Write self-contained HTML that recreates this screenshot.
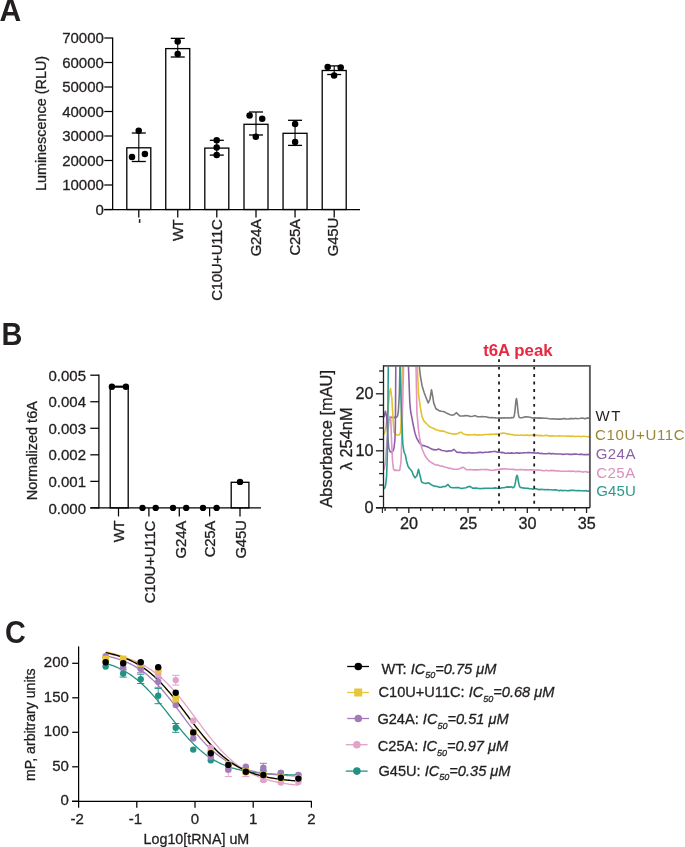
<!DOCTYPE html>
<html><head><meta charset="utf-8"><style>
html,body{margin:0;padding:0;background:#fff;overflow:hidden;}
svg{display:block;font-family:"Liberation Sans",sans-serif;will-change:transform;}
</style></head><body>
<svg width="685" height="847" viewBox="0 0 685 847">
<rect width="685" height="847" fill="#fff"/>
<text transform="translate(-0.6,20.9) scale(0.955,1)" font-size="31.5" font-weight="bold" fill="#231f20">A</text>
<line x1="112.65" y1="37.40" x2="112.65" y2="210.10" stroke="#000" stroke-width="1.25"/>
<line x1="104.20" y1="209.50" x2="360.00" y2="209.50" stroke="#000" stroke-width="1.25"/>
<line x1="104.30" y1="209.50" x2="112.65" y2="209.50" stroke="#000" stroke-width="1.25"/>
<text x="103.90" y="214.90" font-size="15" text-anchor="end" fill="#231f20" stroke="#231f20" stroke-width="0.3">0</text>
<line x1="104.30" y1="185.00" x2="112.65" y2="185.00" stroke="#000" stroke-width="1.25"/>
<text x="103.90" y="190.40" font-size="15" text-anchor="end" fill="#231f20" stroke="#231f20" stroke-width="0.3">10000</text>
<line x1="104.30" y1="160.50" x2="112.65" y2="160.50" stroke="#000" stroke-width="1.25"/>
<text x="103.90" y="165.90" font-size="15" text-anchor="end" fill="#231f20" stroke="#231f20" stroke-width="0.3">20000</text>
<line x1="104.30" y1="136.00" x2="112.65" y2="136.00" stroke="#000" stroke-width="1.25"/>
<text x="103.90" y="141.40" font-size="15" text-anchor="end" fill="#231f20" stroke="#231f20" stroke-width="0.3">30000</text>
<line x1="104.30" y1="111.50" x2="112.65" y2="111.50" stroke="#000" stroke-width="1.25"/>
<text x="103.90" y="116.90" font-size="15" text-anchor="end" fill="#231f20" stroke="#231f20" stroke-width="0.3">40000</text>
<line x1="104.30" y1="87.00" x2="112.65" y2="87.00" stroke="#000" stroke-width="1.25"/>
<text x="103.90" y="92.40" font-size="15" text-anchor="end" fill="#231f20" stroke="#231f20" stroke-width="0.3">50000</text>
<line x1="104.30" y1="62.50" x2="112.65" y2="62.50" stroke="#000" stroke-width="1.25"/>
<text x="103.90" y="67.90" font-size="15" text-anchor="end" fill="#231f20" stroke="#231f20" stroke-width="0.3">60000</text>
<line x1="104.30" y1="38.00" x2="112.65" y2="38.00" stroke="#000" stroke-width="1.25"/>
<text x="103.90" y="43.40" font-size="15" text-anchor="end" fill="#231f20" stroke="#231f20" stroke-width="0.3">70000</text>
<text x="45.60" y="123.50" font-size="14.4" text-anchor="middle" fill="#231f20" stroke="#231f20" stroke-width="0.3" transform="rotate(-90 45.60 123.50)">Luminescence (RLU)</text>
<rect x="126.80" y="147.80" width="24" height="61.70" fill="none" stroke="#000" stroke-width="1.3"/>
<line x1="138.80" y1="209.50" x2="138.80" y2="217.60" stroke="#000" stroke-width="1.25"/>
<rect x="165.75" y="48.60" width="24" height="160.90" fill="none" stroke="#000" stroke-width="1.3"/>
<line x1="177.75" y1="209.50" x2="177.75" y2="217.60" stroke="#000" stroke-width="1.25"/>
<rect x="204.80" y="148.10" width="24" height="61.40" fill="none" stroke="#000" stroke-width="1.3"/>
<line x1="216.80" y1="209.50" x2="216.80" y2="217.60" stroke="#000" stroke-width="1.25"/>
<rect x="244.00" y="124.30" width="24" height="85.20" fill="none" stroke="#000" stroke-width="1.3"/>
<line x1="256.00" y1="209.50" x2="256.00" y2="217.60" stroke="#000" stroke-width="1.25"/>
<rect x="283.05" y="133.30" width="24" height="76.20" fill="none" stroke="#000" stroke-width="1.3"/>
<line x1="295.05" y1="209.50" x2="295.05" y2="217.60" stroke="#000" stroke-width="1.25"/>
<rect x="322.20" y="70.50" width="24" height="139.00" fill="none" stroke="#000" stroke-width="1.3"/>
<line x1="334.20" y1="209.50" x2="334.20" y2="217.60" stroke="#000" stroke-width="1.25"/>
<text x="143.90" y="223.37" transform="rotate(-90 143.90 223.37)" font-size="15" fill="#231f20" stroke="#231f20" stroke-width="0.3" textLength="5.13" lengthAdjust="spacing">-</text>
<text x="183.00" y="240.97" transform="rotate(-90 183.00 240.97)" font-size="15" fill="#231f20" stroke="#231f20" stroke-width="0.3" textLength="21.71" lengthAdjust="spacing">WT</text>
<text x="221.85" y="300.76" transform="rotate(-90 221.85 300.76)" font-size="15" fill="#231f20" stroke="#231f20" stroke-width="0.3" textLength="81.73" lengthAdjust="spacing">C10U+U11C</text>
<text x="260.65" y="256.25" transform="rotate(-90 260.65 256.25)" font-size="15" fill="#231f20" stroke="#231f20" stroke-width="0.3" textLength="37.38" lengthAdjust="spacing">G24A</text>
<text x="299.75" y="255.56" transform="rotate(-90 299.75 255.56)" font-size="15" fill="#231f20" stroke="#231f20" stroke-width="0.3" textLength="36.69" lengthAdjust="spacing">C25A</text>
<text x="338.25" y="256.25" transform="rotate(-90 338.25 256.25)" font-size="15" fill="#231f20" stroke="#231f20" stroke-width="0.3" textLength="38.51" lengthAdjust="spacing">G45U</text>
<line x1="138.80" y1="133.00" x2="138.80" y2="161.50" stroke="#000" stroke-width="1.1"/>
<line x1="131.80" y1="133.00" x2="145.80" y2="133.00" stroke="#000" stroke-width="1.3"/>
<line x1="131.80" y1="161.50" x2="145.80" y2="161.50" stroke="#000" stroke-width="1.3"/>
<circle cx="138.70" cy="130.70" r="3.25" fill="#000"/>
<circle cx="132.00" cy="157.10" r="3.25" fill="#000"/>
<circle cx="144.90" cy="153.90" r="3.25" fill="#000"/>
<line x1="177.75" y1="38.35" x2="177.75" y2="57.00" stroke="#000" stroke-width="1.1"/>
<line x1="170.75" y1="38.35" x2="184.75" y2="38.35" stroke="#000" stroke-width="1.3"/>
<line x1="170.75" y1="57.00" x2="184.75" y2="57.00" stroke="#000" stroke-width="1.3"/>
<circle cx="177.70" cy="41.40" r="3.25" fill="#000"/>
<circle cx="177.70" cy="53.90" r="3.25" fill="#000"/>
<line x1="216.80" y1="140.30" x2="216.80" y2="155.10" stroke="#000" stroke-width="1.1"/>
<line x1="209.80" y1="140.30" x2="223.80" y2="140.30" stroke="#000" stroke-width="1.3"/>
<line x1="209.80" y1="155.10" x2="223.80" y2="155.10" stroke="#000" stroke-width="1.3"/>
<circle cx="216.70" cy="140.30" r="3.25" fill="#000"/>
<circle cx="216.70" cy="147.60" r="3.25" fill="#000"/>
<circle cx="216.70" cy="155.10" r="3.25" fill="#000"/>
<line x1="256.00" y1="112.00" x2="256.00" y2="135.00" stroke="#000" stroke-width="1.1"/>
<line x1="249.00" y1="112.00" x2="263.00" y2="112.00" stroke="#000" stroke-width="1.3"/>
<line x1="249.00" y1="135.00" x2="263.00" y2="135.00" stroke="#000" stroke-width="1.3"/>
<circle cx="249.60" cy="115.50" r="3.25" fill="#000"/>
<circle cx="262.20" cy="118.70" r="3.25" fill="#000"/>
<circle cx="255.80" cy="136.80" r="3.25" fill="#000"/>
<line x1="295.05" y1="120.30" x2="295.05" y2="145.40" stroke="#000" stroke-width="1.1"/>
<line x1="288.05" y1="120.30" x2="302.05" y2="120.30" stroke="#000" stroke-width="1.3"/>
<line x1="288.05" y1="145.40" x2="302.05" y2="145.40" stroke="#000" stroke-width="1.3"/>
<circle cx="295.10" cy="124.00" r="3.25" fill="#000"/>
<circle cx="295.10" cy="142.00" r="3.25" fill="#000"/>
<line x1="334.20" y1="65.90" x2="334.20" y2="74.50" stroke="#000" stroke-width="1.1"/>
<line x1="327.20" y1="65.90" x2="341.20" y2="65.90" stroke="#000" stroke-width="1.3"/>
<line x1="327.20" y1="74.50" x2="341.20" y2="74.50" stroke="#000" stroke-width="1.3"/>
<circle cx="327.70" cy="67.00" r="3.25" fill="#000"/>
<circle cx="340.70" cy="67.40" r="3.25" fill="#000"/>
<circle cx="334.10" cy="75.40" r="3.25" fill="#000"/>
<text transform="translate(1.6,345.0) scale(0.945,1)" font-size="30.6" font-weight="bold" fill="#231f20">B</text>
<line x1="98.90" y1="374.60" x2="98.90" y2="508.50" stroke="#000" stroke-width="1.25"/>
<line x1="90.30" y1="507.90" x2="261.00" y2="507.90" stroke="#000" stroke-width="1.25"/>
<line x1="90.30" y1="507.90" x2="98.90" y2="507.90" stroke="#000" stroke-width="1.25"/>
<text x="86.00" y="513.50" font-size="15" text-anchor="end" fill="#231f20" stroke="#231f20" stroke-width="0.3">0.000</text>
<line x1="90.30" y1="481.36" x2="98.90" y2="481.36" stroke="#000" stroke-width="1.25"/>
<text x="86.00" y="486.96" font-size="15" text-anchor="end" fill="#231f20" stroke="#231f20" stroke-width="0.3">0.001</text>
<line x1="90.30" y1="454.82" x2="98.90" y2="454.82" stroke="#000" stroke-width="1.25"/>
<text x="86.00" y="460.42" font-size="15" text-anchor="end" fill="#231f20" stroke="#231f20" stroke-width="0.3">0.002</text>
<line x1="90.30" y1="428.28" x2="98.90" y2="428.28" stroke="#000" stroke-width="1.25"/>
<text x="86.00" y="433.88" font-size="15" text-anchor="end" fill="#231f20" stroke="#231f20" stroke-width="0.3">0.003</text>
<line x1="90.30" y1="401.74" x2="98.90" y2="401.74" stroke="#000" stroke-width="1.25"/>
<text x="86.00" y="407.34" font-size="15" text-anchor="end" fill="#231f20" stroke="#231f20" stroke-width="0.3">0.004</text>
<line x1="90.30" y1="375.20" x2="98.90" y2="375.20" stroke="#000" stroke-width="1.25"/>
<text x="86.00" y="380.80" font-size="15" text-anchor="end" fill="#231f20" stroke="#231f20" stroke-width="0.3">0.005</text>
<text x="37.20" y="450.70" font-size="14.5" text-anchor="middle" fill="#231f20" stroke="#231f20" stroke-width="0.3" transform="rotate(-90 37.20 450.70)">Normalized t6A</text>
<line x1="118.50" y1="507.90" x2="118.50" y2="516.40" stroke="#000" stroke-width="1.25"/>
<line x1="148.90" y1="507.90" x2="148.90" y2="516.40" stroke="#000" stroke-width="1.25"/>
<line x1="179.30" y1="507.90" x2="179.30" y2="516.40" stroke="#000" stroke-width="1.25"/>
<line x1="209.60" y1="507.90" x2="209.60" y2="516.40" stroke="#000" stroke-width="1.25"/>
<line x1="240.00" y1="507.90" x2="240.00" y2="516.40" stroke="#000" stroke-width="1.25"/>
<text x="124.30" y="542.27" transform="rotate(-90 124.30 542.27)" font-size="15" fill="#231f20" stroke="#231f20" stroke-width="0.3" textLength="22.01" lengthAdjust="spacing">WT</text>
<text x="155.25" y="603.36" transform="rotate(-90 155.25 603.36)" font-size="15" fill="#231f20" stroke="#231f20" stroke-width="0.3" textLength="82.73" lengthAdjust="spacing">C10U+U11C</text>
<text x="185.55" y="558.55" transform="rotate(-90 185.55 558.55)" font-size="15" fill="#231f20" stroke="#231f20" stroke-width="0.3" textLength="37.88" lengthAdjust="spacing">G24A</text>
<text x="215.45" y="557.36" transform="rotate(-90 215.45 557.36)" font-size="15" fill="#231f20" stroke="#231f20" stroke-width="0.3" textLength="36.69" lengthAdjust="spacing">C25A</text>
<text x="245.95" y="558.55" transform="rotate(-90 245.95 558.55)" font-size="15" fill="#231f20" stroke="#231f20" stroke-width="0.3" textLength="38.41" lengthAdjust="spacing">G45U</text>
<line x1="110.00" y1="386.60" x2="128.90" y2="386.60" stroke="#000" stroke-width="2.0"/>
<rect x="110.2" y="386.8" width="18.0" height="121.10" fill="none" stroke="#000" stroke-width="1.3"/>
<rect x="231.2" y="482.3" width="17.7" height="25.60" fill="none" stroke="#000" stroke-width="1.3"/>
<circle cx="111.90" cy="386.80" r="3.2" fill="#000"/>
<circle cx="125.90" cy="386.80" r="3.2" fill="#000"/>
<circle cx="142.50" cy="507.90" r="3.2" fill="#000"/>
<circle cx="155.70" cy="507.90" r="3.2" fill="#000"/>
<circle cx="173.00" cy="507.90" r="3.2" fill="#000"/>
<circle cx="186.20" cy="507.90" r="3.2" fill="#000"/>
<circle cx="203.00" cy="507.90" r="3.2" fill="#000"/>
<circle cx="216.60" cy="507.90" r="3.2" fill="#000"/>
<circle cx="240.00" cy="481.90" r="3.2" fill="#000"/>
<defs><clipPath id="cp"><rect x="384.0" y="366.5" width="205.39999999999998" height="140.90000000000003"/></clipPath></defs>
<g clip-path="url(#cp)" fill="none" stroke-width="1.6" stroke-linejoin="round">
<path d="M390.5,417.6 L391.4,417.4 L393.1,417.2 L394.8,417.4 L396.5,417.4 L397.5,416.0 L398.3,412.0 L399.3,395.0 L400.0,365.0 L401.6,364.9 L403.2,365.1 L404.8,365.1 L406.4,364.7 L408.0,364.7 L409.6,365.2 L411.3,364.8 L412.9,364.8 L414.5,365.3 L416.1,365.0 L417.7,365.2 L419.3,365.0 L419.8,371.0 L420.5,376.6 L422.0,385.4 L424.2,392.7 L426.4,398.5 L428.2,402.9 L429.9,399.5 L431.5,389.7 L432.8,397.0 L433.7,402.9 L435.9,408.7 L437.7,409.8 L439.5,410.9 L441.4,411.3 L443.3,411.5 L445.1,412.2 L446.8,413.3 L448.6,414.1 L450.3,414.8 L452.1,415.1 L453.9,414.8 L456.5,412.7 L458.1,414.4 L459.8,416.0 L461.8,416.0 L463.7,415.9 L465.7,415.6 L468.0,415.7 L470.4,416.5 L472.8,416.2 L475.1,415.6 L477.5,416.8 L479.9,416.7 L482.2,416.5 L484.2,416.7 L486.1,416.8 L488.1,417.4 L490.1,417.8 L492.0,417.6 L494.0,417.7 L495.8,417.9 L497.7,418.0 L499.5,417.9 L501.3,418.1 L503.2,417.8 L505.0,417.9 L506.6,418.0 L508.3,417.7 L510.0,418.0 L511.6,417.6 L512.5,417.8 L513.0,417.7 L513.5,417.4 L514.0,416.5 L514.5,414.4 L515.0,410.4 L515.5,405.1 L516.0,400.3 L516.5,398.6 L517.0,401.1 L517.5,406.1 L518.0,411.3 L518.5,414.9 L519.0,416.8 L519.5,417.5 L520.0,417.7 L520.5,417.8 L522.6,417.6 L524.7,416.9 L526.5,416.8 L528.4,417.0 L530.2,417.3 L532.1,418.0 L533.9,417.9 L535.6,417.9 L537.4,418.1 L539.1,417.9 L540.9,418.1 L542.6,418.1 L544.4,418.2 L546.2,418.2 L548.1,418.5 L549.9,418.7 L551.8,419.0 L553.6,418.9 L555.3,419.0 L557.0,419.1 L558.7,419.1 L560.4,419.1 L562.2,418.9 L563.9,418.5 L565.6,418.9 L567.3,419.0 L569.0,418.9 L570.7,418.6 L572.4,418.6 L574.0,418.7 L575.7,418.3 L577.4,418.7 L579.1,418.5 L580.7,418.2 L582.4,418.0 L584.1,418.6 L585.8,418.6 L587.4,417.9 L589.1,418.2" stroke="#7b7b7b"/>
<path d="M383.9,434.5 L385.7,428.8 L387.9,411.3 L389.6,392.0 L390.5,388.5 L391.8,398.0 L393.1,420.0 L394.0,432.3 L395.8,434.5 L397.6,435.0 L399.3,435.0 L400.6,432.3 L401.5,411.3 L402.3,365.0 L404.0,364.9 L405.6,364.8 L407.3,364.9 L409.0,365.2 L410.6,365.3 L412.3,364.7 L414.0,365.1 L415.6,364.7 L417.3,365.0 L418.5,393.8 L420.3,406.9 L422.0,416.5 L423.8,420.9 L426.4,423.5 L429.0,426.2 L430.8,427.2 L432.6,427.9 L434.3,428.7 L436.0,429.7 L438.5,430.4 L440.1,430.9 L441.7,431.1 L443.3,431.0 L445.1,431.8 L446.8,432.5 L448.8,433.3 L450.7,433.4 L452.7,434.0 L454.4,433.7 L456.2,434.0 L457.9,433.5 L459.5,432.5 L461.2,432.2 L463.3,434.0 L465.1,434.2 L466.9,434.9 L468.8,434.8 L470.7,435.0 L472.5,434.7 L474.4,434.6 L476.3,434.9 L478.0,435.1 L479.7,434.7 L481.4,435.0 L483.0,434.9 L484.7,434.5 L486.4,434.5 L488.1,434.5 L489.8,434.4 L491.5,434.4 L493.2,434.2 L494.8,434.1 L496.5,434.0 L498.2,434.1 L499.9,433.7 L501.6,433.4 L503.4,433.0 L505.2,433.3 L506.9,433.9 L508.7,433.9 L510.5,434.5 L512.4,434.6 L514.3,435.2 L516.2,435.1 L518.1,435.3 L519.9,435.3 L521.6,435.0 L523.4,435.2 L525.1,435.4 L526.9,435.0 L528.6,435.4 L530.4,435.4 L532.1,435.0 L533.9,435.3 L535.6,435.4 L537.3,435.4 L539.0,435.6 L540.7,435.4 L542.4,435.7 L544.1,435.8 L545.8,435.3 L547.4,435.4 L549.1,435.9 L550.8,436.1 L552.5,435.7 L554.2,435.9 L555.9,436.0 L557.6,436.0 L559.3,435.9 L560.9,436.0 L562.6,436.0 L564.2,436.0 L565.9,436.2 L567.5,436.0 L569.2,436.1 L570.9,436.4 L572.5,436.0 L574.2,436.4 L575.8,436.5 L577.5,436.2 L579.2,436.2 L580.8,436.7 L582.5,436.3 L584.1,436.3 L585.8,436.5 L587.4,436.7 L589.1,436.6" stroke="#e3c22e"/>
<path d="M383.9,417.4 L385.4,411.3 L386.6,416.5 L387.9,437.6 L388.8,448.0 L390.0,451.5 L391.4,452.4 L393.0,451.0 L394.0,448.0 L394.9,440.0 L395.3,428.8 L395.5,412.0 L395.8,365.0 L397.6,364.7 L399.4,364.9 L401.2,364.9 L403.0,365.2 L404.8,365.0 L406.6,365.2 L408.4,365.0 L409.8,402.5 L410.7,412.0 L411.5,415.7 L413.3,425.3 L415.0,433.2 L416.8,438.4 L419.4,442.8 L422.0,445.4 L423.8,445.6 L425.5,446.3 L427.2,446.8 L429.0,447.6 L430.8,448.6 L432.6,449.4 L435.0,449.9 L436.8,449.7 L438.5,449.0 L440.3,449.7 L442.1,450.5 L444.5,450.8 L446.8,451.4 L449.1,450.9 L451.5,451.0 L453.9,449.3 L456.8,452.2 L458.7,452.4 L460.6,452.3 L462.6,452.9 L464.5,452.8 L466.2,453.0 L467.9,452.6 L469.6,452.6 L471.2,453.0 L472.9,452.9 L474.6,453.0 L476.3,452.8 L478.0,452.6 L479.7,452.4 L481.4,452.4 L483.0,452.7 L484.7,452.2 L486.4,452.2 L488.1,452.2 L489.9,451.9 L491.6,451.7 L493.4,451.5 L495.2,451.4 L497.2,452.1 L499.1,452.0 L501.1,452.6 L502.9,452.4 L504.6,453.1 L506.4,453.2 L508.2,453.0 L509.8,453.3 L511.5,452.9 L513.1,453.3 L514.8,453.2 L516.4,452.7 L518.1,453.1 L519.8,453.1 L521.4,453.0 L523.0,452.9 L524.7,452.7 L526.3,452.7 L528.0,452.6 L529.6,452.5 L531.3,452.8 L532.9,452.9 L534.6,452.8 L536.2,453.2 L537.9,452.8 L539.5,453.5 L541.2,453.4 L542.8,453.6 L544.5,453.7 L546.1,453.8 L547.7,453.6 L549.4,453.3 L551.0,453.9 L552.7,453.5 L554.3,453.7 L556.0,454.0 L557.6,454.0 L559.3,454.0 L560.9,454.0 L562.6,454.4 L564.2,454.2 L565.9,454.0 L567.5,454.0 L569.2,454.4 L570.9,454.2 L572.5,454.4 L574.2,454.1 L575.8,454.0 L577.5,454.3 L579.2,454.5 L580.8,454.1 L582.5,454.5 L584.1,454.6 L585.8,454.6 L587.4,454.6 L589.1,454.4" stroke="#8c60a8"/>
<path d="M383.9,470.0 L384.6,467.0 L385.5,462.0 L387.0,440.0 L389.2,420.0 L390.0,416.4 L390.8,420.0 L391.7,444.0 L392.6,462.0 L393.5,469.0 L394.4,470.4 L396.2,470.1 L397.9,470.5 L399.7,470.4 L401.0,462.0 L401.9,435.0 L402.8,400.0 L403.6,365.0 L405.4,365.3 L407.1,364.7 L408.9,364.8 L410.7,364.8 L412.5,365.0 L414.2,364.9 L416.0,365.0 L416.9,412.0 L418.5,430.0 L419.9,440.0 L422.0,448.8 L423.8,453.0 L425.5,456.6 L429.0,461.0 L430.8,462.1 L432.6,463.2 L434.3,464.3 L436.0,465.0 L437.9,465.1 L439.7,465.8 L442.0,466.1 L444.4,467.0 L446.0,467.2 L447.6,467.7 L449.2,468.4 L451.2,468.4 L453.1,469.3 L455.1,469.3 L457.5,469.2 L459.8,468.7 L461.5,467.7 L463.1,467.2 L466.3,469.6 L468.2,469.7 L470.1,469.6 L472.0,469.7 L473.9,469.9 L475.6,469.8 L477.3,469.9 L479.0,469.8 L480.6,469.6 L482.3,469.5 L484.0,469.5 L485.7,469.6 L487.7,469.6 L489.6,470.1 L491.6,470.3 L493.4,470.3 L495.1,469.9 L496.9,469.5 L498.7,469.6 L500.7,469.1 L502.6,468.9 L504.6,468.7 L506.6,469.0 L508.5,469.3 L510.5,469.3 L512.8,469.4 L515.0,469.6 L516.6,469.8 L518.3,469.7 L519.9,469.6 L521.5,469.6 L523.1,469.7 L524.8,469.9 L526.4,469.8 L528.0,470.0 L529.7,469.8 L531.3,469.9 L532.9,469.8 L534.6,470.0 L536.2,470.2 L537.9,469.8 L539.5,470.1 L541.2,470.2 L542.8,470.6 L544.5,470.7 L546.1,470.3 L547.7,470.7 L549.4,470.7 L551.0,470.4 L552.7,470.6 L554.3,470.4 L556.0,471.0 L557.6,470.8 L559.3,471.0 L560.9,471.2 L562.6,471.2 L564.2,471.2 L565.9,471.3 L567.5,471.3 L569.2,471.0 L570.9,471.4 L572.5,471.1 L574.2,471.2 L575.8,471.7 L577.5,471.3 L579.2,471.4 L580.8,471.5 L582.5,472.1 L584.1,471.7 L585.8,471.6 L587.4,472.3 L589.1,472.1" stroke="#e095c5"/>
<path d="M383.9,489.0 L385.0,487.5 L385.8,484.0 L386.6,476.0 L387.2,460.0 L387.7,430.0 L388.0,400.0 L388.3,365.0 L390.0,364.7 L391.7,365.2 L393.4,365.1 L395.0,365.2 L396.7,365.3 L398.4,365.1 L400.1,365.0 L401.4,412.0 L402.8,444.0 L404.0,452.0 L405.4,455.0 L406.5,461.0 L408.0,466.3 L409.5,468.5 L410.7,469.8 L412.0,471.5 L413.3,475.0 L415.0,477.7 L416.8,476.0 L418.5,469.3 L420.3,476.8 L421.6,482.0 L423.6,482.9 L425.5,483.4 L427.2,482.9 L429.0,483.0 L430.8,484.4 L432.6,485.5 L435.0,486.1 L437.0,486.5 L438.9,487.1 L440.9,487.3 L443.2,486.6 L445.6,486.4 L448.0,484.4 L450.3,487.3 L452.3,487.6 L454.2,487.8 L456.2,487.6 L458.2,487.6 L460.1,488.1 L462.1,488.5 L464.0,488.0 L466.0,487.7 L467.9,486.7 L469.8,486.4 L472.8,488.2 L474.7,488.0 L476.6,488.1 L478.4,488.5 L480.3,488.6 L482.2,488.5 L484.1,488.4 L486.0,488.3 L487.8,488.2 L489.7,488.2 L491.6,488.2 L493.4,488.1 L495.1,487.9 L496.9,488.2 L498.7,488.2 L500.5,488.3 L502.2,487.7 L504.0,487.7 L505.8,487.3 L507.8,486.9 L509.7,487.1 L511.7,486.8 L512.5,487.6 L513.0,487.6 L513.5,487.4 L514.0,487.1 L514.5,486.2 L515.0,484.5 L515.5,482.0 L516.0,478.9 L516.5,476.3 L517.0,475.3 L517.5,476.3 L518.0,478.9 L518.5,482.0 L519.0,484.5 L519.5,486.2 L520.0,487.1 L520.5,487.4 L521.0,487.6 L521.5,487.6 L523.1,488.0 L524.8,488.1 L526.4,488.2 L528.0,488.4 L529.7,488.7 L531.3,488.8 L532.9,489.2 L534.6,488.8 L536.2,488.8 L537.8,489.4 L539.5,489.6 L541.1,489.4 L542.8,489.5 L544.4,489.6 L546.0,489.8 L547.7,489.5 L549.3,489.7 L551.0,489.7 L552.6,490.0 L554.2,489.9 L555.9,489.9 L557.5,490.3 L559.2,490.6 L560.8,490.2 L562.5,490.6 L564.1,490.5 L565.8,490.5 L567.4,490.8 L569.1,490.6 L570.8,490.4 L572.4,490.4 L574.1,490.3 L575.8,490.7 L577.4,490.6 L579.1,490.5 L580.8,490.7 L582.4,490.7 L584.1,491.0 L585.8,490.6 L587.4,491.2 L589.1,490.9" stroke="#2a9d8f"/>
</g>
<line x1="499.00" y1="359.20" x2="499.00" y2="506.80" stroke="#231f20" stroke-width="1.8" stroke-dasharray="2.9 4.55"/>
<line x1="534.20" y1="359.20" x2="534.20" y2="506.80" stroke="#231f20" stroke-width="1.8" stroke-dasharray="2.9 4.55"/>
<line x1="383.50" y1="365.90" x2="589.90" y2="365.90" stroke="#58565c" stroke-width="1.7"/>
<line x1="589.90" y1="365.05" x2="589.90" y2="507.80" stroke="#5d5b61" stroke-width="1.9"/>
<line x1="383.50" y1="365.20" x2="383.50" y2="507.80" stroke="#231f20" stroke-width="1.3"/>
<line x1="382.40" y1="507.80" x2="382.40" y2="512.90" stroke="#231f20" stroke-width="1.1"/>
<line x1="376.00" y1="507.80" x2="589.90" y2="507.80" stroke="#231f20" stroke-width="1.4"/>
<line x1="375.90" y1="507.80" x2="383.50" y2="507.80" stroke="#231f20" stroke-width="1.3"/>
<line x1="379.10" y1="496.40" x2="383.50" y2="496.40" stroke="#231f20" stroke-width="1.3"/>
<line x1="379.10" y1="485.00" x2="383.50" y2="485.00" stroke="#231f20" stroke-width="1.3"/>
<line x1="379.10" y1="473.60" x2="383.50" y2="473.60" stroke="#231f20" stroke-width="1.3"/>
<line x1="379.10" y1="462.20" x2="383.50" y2="462.20" stroke="#231f20" stroke-width="1.3"/>
<line x1="375.90" y1="450.80" x2="383.50" y2="450.80" stroke="#231f20" stroke-width="1.3"/>
<line x1="379.10" y1="439.40" x2="383.50" y2="439.40" stroke="#231f20" stroke-width="1.3"/>
<line x1="379.10" y1="428.00" x2="383.50" y2="428.00" stroke="#231f20" stroke-width="1.3"/>
<line x1="379.10" y1="416.60" x2="383.50" y2="416.60" stroke="#231f20" stroke-width="1.3"/>
<line x1="379.10" y1="405.20" x2="383.50" y2="405.20" stroke="#231f20" stroke-width="1.3"/>
<line x1="375.90" y1="393.80" x2="383.50" y2="393.80" stroke="#231f20" stroke-width="1.3"/>
<line x1="379.10" y1="382.40" x2="383.50" y2="382.40" stroke="#231f20" stroke-width="1.3"/>
<line x1="379.10" y1="371.00" x2="383.50" y2="371.00" stroke="#231f20" stroke-width="1.3"/>
<line x1="385.10" y1="507.80" x2="385.10" y2="511.00" stroke="#231f20" stroke-width="1.3"/>
<line x1="396.95" y1="507.80" x2="396.95" y2="511.00" stroke="#231f20" stroke-width="1.3"/>
<line x1="408.80" y1="507.80" x2="408.80" y2="513.00" stroke="#231f20" stroke-width="1.3"/>
<line x1="420.65" y1="507.80" x2="420.65" y2="511.00" stroke="#231f20" stroke-width="1.3"/>
<line x1="432.50" y1="507.80" x2="432.50" y2="511.00" stroke="#231f20" stroke-width="1.3"/>
<line x1="444.35" y1="507.80" x2="444.35" y2="511.00" stroke="#231f20" stroke-width="1.3"/>
<line x1="456.20" y1="507.80" x2="456.20" y2="511.00" stroke="#231f20" stroke-width="1.3"/>
<line x1="468.05" y1="507.80" x2="468.05" y2="513.00" stroke="#231f20" stroke-width="1.3"/>
<line x1="479.90" y1="507.80" x2="479.90" y2="511.00" stroke="#231f20" stroke-width="1.3"/>
<line x1="491.75" y1="507.80" x2="491.75" y2="511.00" stroke="#231f20" stroke-width="1.3"/>
<line x1="503.60" y1="507.80" x2="503.60" y2="511.00" stroke="#231f20" stroke-width="1.3"/>
<line x1="515.45" y1="507.80" x2="515.45" y2="511.00" stroke="#231f20" stroke-width="1.3"/>
<line x1="527.30" y1="507.80" x2="527.30" y2="513.00" stroke="#231f20" stroke-width="1.3"/>
<line x1="539.15" y1="507.80" x2="539.15" y2="511.00" stroke="#231f20" stroke-width="1.3"/>
<line x1="551.00" y1="507.80" x2="551.00" y2="511.00" stroke="#231f20" stroke-width="1.3"/>
<line x1="562.85" y1="507.80" x2="562.85" y2="511.00" stroke="#231f20" stroke-width="1.3"/>
<line x1="574.70" y1="507.80" x2="574.70" y2="511.00" stroke="#231f20" stroke-width="1.3"/>
<line x1="586.55" y1="507.80" x2="586.55" y2="513.00" stroke="#231f20" stroke-width="1.3"/>
<text x="373.60" y="513.40" font-size="16.2" text-anchor="end" fill="#231f20" stroke="#231f20" stroke-width="0.3">0</text>
<text x="373.60" y="456.40" font-size="16.2" text-anchor="end" fill="#231f20" stroke="#231f20" stroke-width="0.3">10</text>
<text x="373.60" y="399.40" font-size="16.2" text-anchor="end" fill="#231f20" stroke="#231f20" stroke-width="0.3">20</text>
<text x="409.10" y="529.40" font-size="16.2" text-anchor="middle" fill="#231f20" stroke="#231f20" stroke-width="0.3">20</text>
<text x="468.35" y="529.40" font-size="16.2" text-anchor="middle" fill="#231f20" stroke="#231f20" stroke-width="0.3">25</text>
<text x="527.60" y="529.40" font-size="16.2" text-anchor="middle" fill="#231f20" stroke="#231f20" stroke-width="0.3">30</text>
<text x="586.85" y="529.40" font-size="16.2" text-anchor="middle" fill="#231f20" stroke="#231f20" stroke-width="0.3">35</text>
<text x="332.20" y="438.80" font-size="16.4" text-anchor="middle" fill="#231f20" stroke="#231f20" stroke-width="0.3" transform="rotate(-90 332.20 438.80)">Absorbance [mAU]</text>
<text x="352.20" y="438.80" font-size="16.4" text-anchor="middle" fill="#231f20" stroke="#231f20" stroke-width="0.3" transform="rotate(-90 352.20 438.80)">&#955; 254nM</text>
<text x="483.2" y="356.0" font-size="15.9" font-weight="bold" fill="#e62840" textLength="69.4" lengthAdjust="spacingAndGlyphs">t6A peak</text>
<text x="595.43" y="420.8" font-size="15.0" fill="#231f20" textLength="24.91" lengthAdjust="spacing">WT</text>
<text x="595.04" y="439.7" font-size="15.0" fill="#9a8535" textLength="89.63" lengthAdjust="spacing">C10U+U11C</text>
<text x="595.65" y="458.8" font-size="15.0" fill="#8a62a5" textLength="39.78" lengthAdjust="spacing">G24A</text>
<text x="596.14" y="477.7" font-size="15.0" fill="#dc8fbd" textLength="39.09" lengthAdjust="spacing">C25A</text>
<text x="596.15" y="496.4" font-size="15.0" fill="#2a9a8c" textLength="39.81" lengthAdjust="spacing">G45U</text>
<text transform="translate(5.0,642.5) scale(0.9,1)" font-size="32" font-weight="bold" fill="#231f20">C</text>
<line x1="78.60" y1="646.40" x2="78.60" y2="801.90" stroke="#000" stroke-width="1.25"/>
<line x1="72.00" y1="801.30" x2="311.80" y2="801.30" stroke="#000" stroke-width="1.25"/>
<line x1="72.20" y1="801.30" x2="78.60" y2="801.30" stroke="#000" stroke-width="1.25"/>
<text x="68.90" y="805.20" font-size="15" text-anchor="end" fill="#231f20" stroke="#231f20" stroke-width="0.3">0</text>
<line x1="72.20" y1="766.80" x2="78.60" y2="766.80" stroke="#000" stroke-width="1.25"/>
<text x="68.90" y="770.70" font-size="15" text-anchor="end" fill="#231f20" stroke="#231f20" stroke-width="0.3">50</text>
<line x1="72.20" y1="732.30" x2="78.60" y2="732.30" stroke="#000" stroke-width="1.25"/>
<text x="68.90" y="736.20" font-size="15" text-anchor="end" fill="#231f20" stroke="#231f20" stroke-width="0.3">100</text>
<line x1="72.20" y1="697.80" x2="78.60" y2="697.80" stroke="#000" stroke-width="1.25"/>
<text x="68.90" y="701.70" font-size="15" text-anchor="end" fill="#231f20" stroke="#231f20" stroke-width="0.3">150</text>
<line x1="72.20" y1="663.30" x2="78.60" y2="663.30" stroke="#000" stroke-width="1.25"/>
<text x="68.90" y="667.20" font-size="15" text-anchor="end" fill="#231f20" stroke="#231f20" stroke-width="0.3">200</text>
<line x1="78.60" y1="801.30" x2="78.60" y2="807.70" stroke="#000" stroke-width="1.25"/>
<text x="77.20" y="823.80" font-size="15" text-anchor="middle" fill="#231f20" stroke="#231f20" stroke-width="0.3">-2</text>
<line x1="136.80" y1="801.30" x2="136.80" y2="807.70" stroke="#000" stroke-width="1.25"/>
<text x="135.40" y="823.80" font-size="15" text-anchor="middle" fill="#231f20" stroke="#231f20" stroke-width="0.3">-1</text>
<line x1="195.00" y1="801.30" x2="195.00" y2="807.70" stroke="#000" stroke-width="1.25"/>
<text x="195.00" y="823.80" font-size="15" text-anchor="middle" fill="#231f20" stroke="#231f20" stroke-width="0.3">0</text>
<line x1="253.20" y1="801.30" x2="253.20" y2="807.70" stroke="#000" stroke-width="1.25"/>
<text x="253.20" y="823.80" font-size="15" text-anchor="middle" fill="#231f20" stroke="#231f20" stroke-width="0.3">1</text>
<line x1="311.40" y1="801.30" x2="311.40" y2="807.70" stroke="#000" stroke-width="1.25"/>
<text x="311.40" y="823.80" font-size="15" text-anchor="middle" fill="#231f20" stroke="#231f20" stroke-width="0.3">2</text>
<text x="196.40" y="843.70" font-size="14.3" text-anchor="middle" fill="#231f20" stroke="#231f20" stroke-width="0.3">Log10[tRNA] uM</text>
<text x="34.60" y="724.80" font-size="14.1" text-anchor="middle" fill="#231f20" stroke="#231f20" stroke-width="0.3" transform="rotate(-90 34.60 724.80)">mP, arbitrary units</text>
<path d="M105.66,663.29 L107.27,663.77 L108.87,664.27 L110.48,664.81 L112.09,665.38 L113.69,665.98 L115.30,666.62 L116.90,667.30 L118.51,668.02 L120.12,668.77 L121.72,669.57 L123.33,670.42 L124.93,671.31 L126.54,672.25 L128.15,673.23 L129.75,674.27 L131.36,675.35 L132.96,676.49 L134.57,677.69 L136.18,678.93 L137.78,680.23 L139.39,681.59 L140.99,683.00 L142.60,684.46 L144.21,685.98 L145.81,687.56 L147.42,689.18 L149.02,690.86 L150.63,692.59 L152.24,694.36 L153.84,696.18 L155.45,698.04 L157.05,699.94 L158.66,701.87 L160.27,703.84 L161.87,705.83 L163.48,707.84 L165.08,709.88 L166.69,711.93 L168.30,713.99 L169.90,716.05 L171.51,718.11 L173.11,720.17 L174.72,722.22 L176.33,724.25 L177.93,726.26 L179.54,728.25 L181.14,730.21 L182.75,732.14 L184.36,734.03 L185.96,735.88 L187.57,737.69 L189.17,739.45 L190.78,741.17 L192.39,742.84 L193.99,744.45 L195.60,746.01 L197.20,747.52 L198.81,748.98 L200.42,750.38 L202.02,751.72 L203.63,753.01 L205.23,754.25 L206.84,755.43 L208.45,756.56 L210.05,757.63 L211.66,758.66 L213.26,759.63 L214.87,760.56 L216.48,761.44 L218.08,762.28 L219.69,763.07 L221.29,763.82 L222.90,764.53 L224.51,765.20 L226.11,765.83 L227.72,766.43 L229.32,766.99 L230.93,767.52 L232.54,768.02 L234.14,768.49 L235.75,768.93 L237.35,769.35 L238.96,769.74 L240.57,770.11 L242.17,770.45 L243.78,770.78 L245.38,771.08 L246.99,771.36 L248.60,771.63 L250.20,771.88 L251.81,772.12 L253.41,772.34 L255.02,772.54 L256.63,772.74 L258.23,772.92 L259.84,773.08 L261.44,773.24 L263.05,773.39 L264.66,773.53 L266.26,773.66 L267.87,773.78 L269.47,773.89 L271.08,774.00 L272.69,774.10 L274.29,774.19 L275.90,774.28 L277.50,774.36 L279.11,774.43 L280.72,774.50 L282.32,774.57 L283.93,774.63 L285.53,774.69 L287.14,774.74 L288.75,774.79 L290.35,774.84 L291.96,774.88 L293.56,774.92 L295.17,774.96 L296.78,775.00 L298.38,775.03" fill="none" stroke="#239283" stroke-width="1.3"/>
<path d="M105.66,653.45 L107.27,653.69 L108.87,653.95 L110.48,654.23 L112.09,654.52 L113.69,654.83 L115.30,655.16 L116.90,655.51 L118.51,655.88 L120.12,656.27 L121.72,656.68 L123.33,657.12 L124.93,657.58 L126.54,658.07 L128.15,658.59 L129.75,659.13 L131.36,659.71 L132.96,660.32 L134.57,660.96 L136.18,661.64 L137.78,662.35 L139.39,663.10 L140.99,663.89 L142.60,664.72 L144.21,665.60 L145.81,666.51 L147.42,667.47 L149.02,668.48 L150.63,669.53 L152.24,670.63 L153.84,671.79 L155.45,672.99 L157.05,674.24 L158.66,675.54 L160.27,676.90 L161.87,678.31 L163.48,679.77 L165.08,681.29 L166.69,682.86 L168.30,684.48 L169.90,686.15 L171.51,687.87 L173.11,689.64 L174.72,691.46 L176.33,693.32 L177.93,695.23 L179.54,697.17 L181.14,699.16 L182.75,701.18 L184.36,703.24 L185.96,705.32 L187.57,707.43 L189.17,709.56 L190.78,711.71 L192.39,713.87 L193.99,716.04 L195.60,718.22 L197.20,720.39 L198.81,722.57 L200.42,724.73 L202.02,726.89 L203.63,729.02 L205.23,731.14 L206.84,733.23 L208.45,735.30 L210.05,737.33 L211.66,739.33 L213.26,741.29 L214.87,743.21 L216.48,745.09 L218.08,746.93 L219.69,748.71 L221.29,750.45 L222.90,752.14 L224.51,753.78 L226.11,755.36 L227.72,756.89 L229.32,758.38 L230.93,759.80 L232.54,761.18 L234.14,762.50 L235.75,763.77 L237.35,764.99 L238.96,766.16 L240.57,767.28 L242.17,768.35 L243.78,769.37 L245.38,770.34 L246.99,771.27 L248.60,772.16 L250.20,773.01 L251.81,773.81 L253.41,774.57 L255.02,775.30 L256.63,775.99 L258.23,776.64 L259.84,777.26 L261.44,777.85 L263.05,778.41 L264.66,778.94 L266.26,779.43 L267.87,779.91 L269.47,780.35 L271.08,780.77 L272.69,781.17 L274.29,781.55 L275.90,781.90 L277.50,782.24 L279.11,782.56 L280.72,782.85 L282.32,783.14 L283.93,783.40 L285.53,783.65 L287.14,783.89 L288.75,784.11 L290.35,784.32 L291.96,784.51 L293.56,784.70 L295.17,784.87 L296.78,785.04 L298.38,785.19" fill="none" stroke="#e2a2c9" stroke-width="1.3"/>
<path d="M105.66,655.83 L107.27,656.16 L108.87,656.51 L110.48,656.88 L112.09,657.28 L113.69,657.70 L115.30,658.15 L116.90,658.62 L118.51,659.13 L120.12,659.66 L121.72,660.23 L123.33,660.84 L124.93,661.48 L126.54,662.16 L128.15,662.87 L129.75,663.63 L131.36,664.43 L132.96,665.27 L134.57,666.16 L136.18,667.10 L137.78,668.09 L139.39,669.13 L140.99,670.21 L142.60,671.36 L144.21,672.55 L145.81,673.80 L147.42,675.11 L149.02,676.47 L150.63,677.89 L152.24,679.37 L153.84,680.90 L155.45,682.49 L157.05,684.13 L158.66,685.83 L160.27,687.58 L161.87,689.38 L163.48,691.23 L165.08,693.13 L166.69,695.07 L168.30,697.05 L169.90,699.07 L171.51,701.12 L173.11,703.20 L174.72,705.30 L176.33,707.42 L177.93,709.56 L179.54,711.71 L181.14,713.86 L182.75,716.01 L184.36,718.16 L185.96,720.30 L187.57,722.42 L189.17,724.53 L190.78,726.61 L192.39,728.66 L193.99,730.68 L195.60,732.66 L197.20,734.61 L198.81,736.51 L200.42,738.36 L202.02,740.17 L203.63,741.92 L205.23,743.62 L206.84,745.27 L208.45,746.86 L210.05,748.40 L211.66,749.88 L213.26,751.31 L214.87,752.67 L216.48,753.98 L218.08,755.24 L219.69,756.44 L221.29,757.59 L222.90,758.68 L224.51,759.72 L226.11,760.71 L227.72,761.65 L229.32,762.54 L230.93,763.39 L232.54,764.20 L234.14,764.96 L235.75,765.68 L237.35,766.36 L238.96,767.00 L240.57,767.61 L242.17,768.18 L243.78,768.72 L245.38,769.23 L246.99,769.70 L248.60,770.15 L250.20,770.58 L251.81,770.98 L253.41,771.35 L255.02,771.70 L256.63,772.03 L258.23,772.34 L259.84,772.64 L261.44,772.91 L263.05,773.17 L264.66,773.41 L266.26,773.63 L267.87,773.84 L269.47,774.04 L271.08,774.22 L272.69,774.40 L274.29,774.56 L275.90,774.71 L277.50,774.86 L279.11,774.99 L280.72,775.11 L282.32,775.23 L283.93,775.34 L285.53,775.44 L287.14,775.54 L288.75,775.63 L290.35,775.71 L291.96,775.79 L293.56,775.86 L295.17,775.93 L296.78,775.99 L298.38,776.05" fill="none" stroke="#a27cb9" stroke-width="1.3"/>
<path d="M105.66,651.79 L107.27,652.13 L108.87,652.49 L110.48,652.87 L112.09,653.27 L113.69,653.70 L115.30,654.15 L116.90,654.63 L118.51,655.13 L120.12,655.67 L121.72,656.23 L123.33,656.83 L124.93,657.46 L126.54,658.12 L128.15,658.82 L129.75,659.55 L131.36,660.33 L132.96,661.14 L134.57,662.00 L136.18,662.90 L137.78,663.85 L139.39,664.83 L140.99,665.87 L142.60,666.96 L144.21,668.09 L145.81,669.27 L147.42,670.51 L149.02,671.80 L150.63,673.14 L152.24,674.53 L153.84,675.97 L155.45,677.47 L157.05,679.02 L158.66,680.63 L160.27,682.28 L161.87,683.98 L163.48,685.74 L165.08,687.54 L166.69,689.39 L168.30,691.28 L169.90,693.21 L171.51,695.18 L173.11,697.19 L174.72,699.23 L176.33,701.30 L177.93,703.40 L179.54,705.51 L181.14,707.65 L182.75,709.80 L184.36,711.95 L185.96,714.12 L187.57,716.28 L189.17,718.44 L190.78,720.60 L192.39,722.74 L193.99,724.86 L195.60,726.97 L197.20,729.05 L198.81,731.10 L200.42,733.12 L202.02,735.10 L203.63,737.05 L205.23,738.96 L206.84,740.82 L208.45,742.64 L210.05,744.42 L211.66,746.14 L213.26,747.81 L214.87,749.44 L216.48,751.01 L218.08,752.52 L219.69,753.99 L221.29,755.40 L222.90,756.76 L224.51,758.07 L226.11,759.32 L227.72,760.53 L229.32,761.68 L230.93,762.78 L232.54,763.84 L234.14,764.85 L235.75,765.81 L237.35,766.72 L238.96,767.60 L240.57,768.43 L242.17,769.22 L243.78,769.97 L245.38,770.68 L246.99,771.36 L248.60,772.00 L250.20,772.61 L251.81,773.19 L253.41,773.73 L255.02,774.25 L256.63,774.74 L258.23,775.20 L259.84,775.63 L261.44,776.05 L263.05,776.44 L264.66,776.80 L266.26,777.15 L267.87,777.48 L269.47,777.78 L271.08,778.07 L272.69,778.35 L274.29,778.61 L275.90,778.85 L277.50,779.08 L279.11,779.29 L280.72,779.50 L282.32,779.69 L283.93,779.87 L285.53,780.04 L287.14,780.20 L288.75,780.35 L290.35,780.49 L291.96,780.62 L293.56,780.74 L295.17,780.86 L296.78,780.97 L298.38,781.07" fill="none" stroke="#e8c53a" stroke-width="1.3"/>
<path d="M105.66,652.65 L107.27,652.98 L108.87,653.33 L110.48,653.70 L112.09,654.08 L113.69,654.50 L115.30,654.93 L116.90,655.40 L118.51,655.89 L120.12,656.40 L121.72,656.95 L123.33,657.53 L124.93,658.13 L126.54,658.78 L128.15,659.45 L129.75,660.17 L131.36,660.92 L132.96,661.71 L134.57,662.54 L136.18,663.41 L137.78,664.32 L139.39,665.28 L140.99,666.29 L142.60,667.34 L144.21,668.44 L145.81,669.59 L147.42,670.79 L149.02,672.05 L150.63,673.35 L152.24,674.70 L153.84,676.11 L155.45,677.57 L157.05,679.08 L158.66,680.64 L160.27,682.26 L161.87,683.92 L163.48,685.64 L165.08,687.40 L166.69,689.21 L168.30,691.06 L169.90,692.95 L171.51,694.89 L173.11,696.86 L174.72,698.86 L176.33,700.90 L177.93,702.96 L179.54,705.05 L181.14,707.16 L182.75,709.28 L184.36,711.41 L185.96,713.55 L187.57,715.70 L189.17,717.84 L190.78,719.98 L192.39,722.10 L193.99,724.22 L195.60,726.31 L197.20,728.38 L198.81,730.43 L200.42,732.45 L202.02,734.43 L203.63,736.38 L205.23,738.29 L206.84,740.16 L208.45,741.99 L210.05,743.77 L211.66,745.50 L213.26,747.19 L214.87,748.82 L216.48,750.41 L218.08,751.94 L219.69,753.42 L221.29,754.84 L222.90,756.22 L224.51,757.54 L226.11,758.81 L227.72,760.04 L229.32,761.21 L230.93,762.33 L232.54,763.40 L234.14,764.42 L235.75,765.40 L237.35,766.33 L238.96,767.22 L240.57,768.07 L242.17,768.87 L243.78,769.64 L245.38,770.37 L246.99,771.06 L248.60,771.71 L250.20,772.34 L251.81,772.93 L253.41,773.48 L255.02,774.01 L256.63,774.51 L258.23,774.98 L259.84,775.43 L261.44,775.85 L263.05,776.25 L264.66,776.63 L266.26,776.98 L267.87,777.32 L269.47,777.64 L271.08,777.94 L272.69,778.22 L274.29,778.48 L275.90,778.73 L277.50,778.97 L279.11,779.19 L280.72,779.40 L282.32,779.59 L283.93,779.78 L285.53,779.95 L287.14,780.12 L288.75,780.27 L290.35,780.42 L291.96,780.55 L293.56,780.68 L295.17,780.80 L296.78,780.91 L298.38,781.02" fill="none" stroke="#000000" stroke-width="1.3"/>
<line x1="123.18" y1="669.80" x2="123.18" y2="677.10" stroke="#239283" stroke-width="0.9"/>
<line x1="119.58" y1="669.80" x2="126.78" y2="669.80" stroke="#239283" stroke-width="1.0"/>
<line x1="119.58" y1="677.10" x2="126.78" y2="677.10" stroke="#239283" stroke-width="1.0"/>
<line x1="140.70" y1="674.20" x2="140.70" y2="683.50" stroke="#239283" stroke-width="0.9"/>
<line x1="137.10" y1="674.20" x2="144.30" y2="674.20" stroke="#239283" stroke-width="1.0"/>
<line x1="137.10" y1="683.50" x2="144.30" y2="683.50" stroke="#239283" stroke-width="1.0"/>
<line x1="158.22" y1="688.40" x2="158.22" y2="703.70" stroke="#239283" stroke-width="0.9"/>
<line x1="154.62" y1="688.40" x2="161.82" y2="688.40" stroke="#239283" stroke-width="1.0"/>
<line x1="154.62" y1="703.70" x2="161.82" y2="703.70" stroke="#239283" stroke-width="1.0"/>
<line x1="175.74" y1="723.50" x2="175.74" y2="732.30" stroke="#239283" stroke-width="0.9"/>
<line x1="172.14" y1="723.50" x2="179.34" y2="723.50" stroke="#239283" stroke-width="1.0"/>
<line x1="172.14" y1="732.30" x2="179.34" y2="732.30" stroke="#239283" stroke-width="1.0"/>
<circle cx="105.66" cy="666.50" r="3.2" fill="#239283"/>
<circle cx="123.18" cy="673.50" r="3.2" fill="#239283"/>
<circle cx="140.70" cy="679.30" r="3.2" fill="#239283"/>
<circle cx="158.22" cy="695.80" r="3.2" fill="#239283"/>
<circle cx="175.74" cy="727.80" r="3.2" fill="#239283"/>
<circle cx="193.26" cy="749.60" r="3.2" fill="#239283"/>
<circle cx="210.78" cy="760.30" r="3.2" fill="#239283"/>
<circle cx="228.30" cy="765.50" r="3.2" fill="#239283"/>
<circle cx="245.82" cy="768.50" r="3.2" fill="#239283"/>
<circle cx="263.34" cy="770.50" r="3.2" fill="#239283"/>
<circle cx="280.86" cy="773.00" r="3.2" fill="#239283"/>
<circle cx="298.38" cy="775.50" r="3.2" fill="#239283"/>
<line x1="158.22" y1="671.00" x2="158.22" y2="677.00" stroke="#e2a2c9" stroke-width="0.9"/>
<line x1="154.62" y1="671.00" x2="161.82" y2="671.00" stroke="#e2a2c9" stroke-width="1.0"/>
<line x1="154.62" y1="677.00" x2="161.82" y2="677.00" stroke="#e2a2c9" stroke-width="1.0"/>
<line x1="175.74" y1="675.30" x2="175.74" y2="685.00" stroke="#e2a2c9" stroke-width="0.9"/>
<line x1="172.14" y1="675.30" x2="179.34" y2="675.30" stroke="#e2a2c9" stroke-width="1.0"/>
<line x1="172.14" y1="685.00" x2="179.34" y2="685.00" stroke="#e2a2c9" stroke-width="1.0"/>
<line x1="228.30" y1="764.50" x2="228.30" y2="776.60" stroke="#e2a2c9" stroke-width="0.9"/>
<line x1="224.70" y1="764.50" x2="231.90" y2="764.50" stroke="#e2a2c9" stroke-width="1.0"/>
<line x1="224.70" y1="776.60" x2="231.90" y2="776.60" stroke="#e2a2c9" stroke-width="1.0"/>
<line x1="245.82" y1="769.00" x2="245.82" y2="776.60" stroke="#e2a2c9" stroke-width="0.9"/>
<line x1="242.22" y1="769.00" x2="249.42" y2="769.00" stroke="#e2a2c9" stroke-width="1.0"/>
<line x1="242.22" y1="776.60" x2="249.42" y2="776.60" stroke="#e2a2c9" stroke-width="1.0"/>
<line x1="263.34" y1="776.00" x2="263.34" y2="781.50" stroke="#e2a2c9" stroke-width="0.9"/>
<line x1="259.74" y1="776.00" x2="266.94" y2="776.00" stroke="#e2a2c9" stroke-width="1.0"/>
<line x1="259.74" y1="781.50" x2="266.94" y2="781.50" stroke="#e2a2c9" stroke-width="1.0"/>
<circle cx="105.66" cy="657.50" r="3.2" fill="#e2a2c9"/>
<circle cx="123.18" cy="663.50" r="3.2" fill="#e2a2c9"/>
<circle cx="140.70" cy="668.50" r="3.2" fill="#e2a2c9"/>
<circle cx="158.22" cy="674.00" r="3.2" fill="#e2a2c9"/>
<circle cx="175.74" cy="680.10" r="3.2" fill="#e2a2c9"/>
<circle cx="193.26" cy="720.80" r="3.2" fill="#e2a2c9"/>
<circle cx="210.78" cy="747.80" r="3.2" fill="#e2a2c9"/>
<circle cx="228.30" cy="770.00" r="3.2" fill="#e2a2c9"/>
<circle cx="245.82" cy="772.50" r="3.2" fill="#e2a2c9"/>
<circle cx="263.34" cy="780.10" r="3.2" fill="#e2a2c9"/>
<circle cx="280.86" cy="782.60" r="3.2" fill="#e2a2c9"/>
<circle cx="298.38" cy="782.00" r="3.2" fill="#e2a2c9"/>
<line x1="140.70" y1="666.00" x2="140.70" y2="672.70" stroke="#a27cb9" stroke-width="0.9"/>
<line x1="137.10" y1="666.00" x2="144.30" y2="666.00" stroke="#a27cb9" stroke-width="1.0"/>
<line x1="137.10" y1="672.70" x2="144.30" y2="672.70" stroke="#a27cb9" stroke-width="1.0"/>
<line x1="158.22" y1="678.00" x2="158.22" y2="687.30" stroke="#a27cb9" stroke-width="0.9"/>
<line x1="154.62" y1="678.00" x2="161.82" y2="678.00" stroke="#a27cb9" stroke-width="1.0"/>
<line x1="154.62" y1="687.30" x2="161.82" y2="687.30" stroke="#a27cb9" stroke-width="1.0"/>
<line x1="263.34" y1="763.30" x2="263.34" y2="771.00" stroke="#a27cb9" stroke-width="0.9"/>
<line x1="259.74" y1="763.30" x2="266.94" y2="763.30" stroke="#a27cb9" stroke-width="1.0"/>
<line x1="259.74" y1="771.00" x2="266.94" y2="771.00" stroke="#a27cb9" stroke-width="1.0"/>
<circle cx="105.66" cy="656.30" r="3.2" fill="#a27cb9"/>
<circle cx="123.18" cy="667.60" r="3.2" fill="#a27cb9"/>
<circle cx="140.70" cy="668.70" r="3.2" fill="#a27cb9"/>
<circle cx="158.22" cy="681.80" r="3.2" fill="#a27cb9"/>
<circle cx="175.74" cy="705.10" r="3.2" fill="#a27cb9"/>
<circle cx="193.26" cy="738.50" r="3.2" fill="#a27cb9"/>
<circle cx="210.78" cy="757.10" r="3.2" fill="#a27cb9"/>
<circle cx="228.30" cy="769.60" r="3.2" fill="#a27cb9"/>
<circle cx="245.82" cy="766.80" r="3.2" fill="#a27cb9"/>
<circle cx="263.34" cy="767.60" r="3.2" fill="#a27cb9"/>
<circle cx="280.86" cy="772.90" r="3.2" fill="#a27cb9"/>
<circle cx="298.38" cy="775.00" r="3.2" fill="#a27cb9"/>
<rect x="102.36" y="655.60" width="6.6" height="6.6" fill="#e8c53a"/>
<rect x="119.88" y="655.60" width="6.6" height="6.6" fill="#e8c53a"/>
<rect x="137.40" y="660.30" width="6.6" height="6.6" fill="#e8c53a"/>
<rect x="154.92" y="666.90" width="6.6" height="6.6" fill="#e8c53a"/>
<rect x="172.44" y="695.80" width="6.6" height="6.6" fill="#e8c53a"/>
<rect x="189.96" y="729.10" width="6.6" height="6.6" fill="#e8c53a"/>
<rect x="207.48" y="749.30" width="6.6" height="6.6" fill="#e8c53a"/>
<rect x="225.00" y="761.10" width="6.6" height="6.6" fill="#e8c53a"/>
<rect x="242.52" y="768.20" width="6.6" height="6.6" fill="#e8c53a"/>
<rect x="260.04" y="771.40" width="6.6" height="6.6" fill="#e8c53a"/>
<rect x="277.56" y="774.20" width="6.6" height="6.6" fill="#e8c53a"/>
<rect x="295.08" y="775.10" width="6.6" height="6.6" fill="#e8c53a"/>
<circle cx="105.66" cy="662.20" r="3.2" fill="#000000"/>
<circle cx="123.18" cy="663.20" r="3.2" fill="#000000"/>
<circle cx="140.70" cy="662.20" r="3.2" fill="#000000"/>
<circle cx="158.22" cy="667.30" r="3.2" fill="#000000"/>
<circle cx="175.74" cy="692.70" r="3.2" fill="#000000"/>
<circle cx="193.26" cy="732.40" r="3.2" fill="#000000"/>
<circle cx="210.78" cy="753.20" r="3.2" fill="#000000"/>
<circle cx="228.30" cy="764.90" r="3.2" fill="#000000"/>
<circle cx="245.82" cy="771.80" r="3.2" fill="#000000"/>
<circle cx="263.34" cy="775.00" r="3.2" fill="#000000"/>
<circle cx="280.86" cy="777.70" r="3.2" fill="#000000"/>
<circle cx="298.38" cy="778.60" r="3.2" fill="#000000"/>
<line x1="347.20" y1="666.50" x2="369.00" y2="666.50" stroke="#000000" stroke-width="1.3"/>
<circle cx="358.30" cy="666.50" r="3.8" fill="#000000"/>
<text x="381.5" y="673.7" font-size="14.6" fill="#231f20" stroke="#231f20" stroke-width="0.3">WT: <tspan font-style="italic">IC</tspan><tspan font-style="italic" font-size="9" dy="4.6">50</tspan><tspan font-style="italic" dy="-4.6">=0.75 &#956;M</tspan></text>
<line x1="347.20" y1="692.50" x2="369.00" y2="692.50" stroke="#e8c53a" stroke-width="1.3"/>
<rect x="354.2" y="688.5" width="8" height="8" fill="#e8c53a"/>
<text x="378.5" y="697.0" font-size="14.6" fill="#231f20" stroke="#231f20" stroke-width="0.3">C10U+U11C: <tspan font-style="italic">IC</tspan><tspan font-style="italic" font-size="9" dy="4.6">50</tspan><tspan font-style="italic" dy="-4.6">=0.68 &#956;M</tspan></text>
<line x1="347.20" y1="718.50" x2="369.00" y2="718.50" stroke="#a27cb9" stroke-width="1.3"/>
<circle cx="358.30" cy="718.50" r="3.8" fill="#a27cb9"/>
<text x="377.4" y="724.2" font-size="14.6" fill="#231f20" stroke="#231f20" stroke-width="0.3">G24A: <tspan font-style="italic">IC</tspan><tspan font-style="italic" font-size="9" dy="4.6">50</tspan><tspan font-style="italic" dy="-4.6">=0.51 &#956;M</tspan></text>
<line x1="345.80" y1="744.70" x2="367.60" y2="744.70" stroke="#e2a2c9" stroke-width="1.3"/>
<circle cx="356.90" cy="744.70" r="3.8" fill="#e2a2c9"/>
<text x="377.8" y="751.0" font-size="14.6" fill="#231f20" stroke="#231f20" stroke-width="0.3">C25A: <tspan font-style="italic">IC</tspan><tspan font-style="italic" font-size="9" dy="4.6">50</tspan><tspan font-style="italic" dy="-4.6">=0.97 &#956;M</tspan></text>
<line x1="345.80" y1="771.10" x2="367.60" y2="771.10" stroke="#239283" stroke-width="1.3"/>
<circle cx="356.90" cy="771.10" r="3.8" fill="#239283"/>
<text x="378.5" y="775.6" font-size="14.6" fill="#231f20" stroke="#231f20" stroke-width="0.3">G45U: <tspan font-style="italic">IC</tspan><tspan font-style="italic" font-size="9" dy="4.6">50</tspan><tspan font-style="italic" dy="-4.6">=0.35 &#956;M</tspan></text>
</svg>
</body></html>
